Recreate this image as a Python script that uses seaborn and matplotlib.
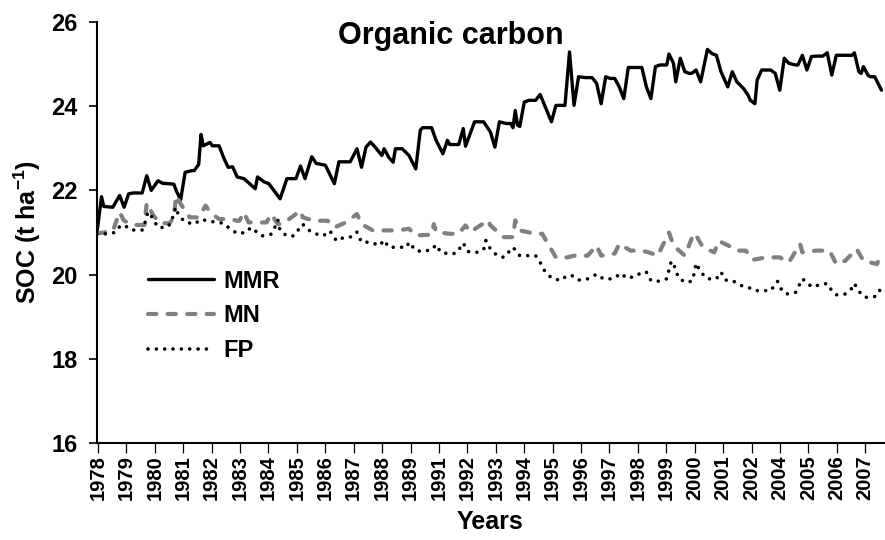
import numpy as np
import pandas as pd
import matplotlib
matplotlib.use('Agg')
import matplotlib.pyplot as plt
import seaborn as sns

# months since Jan 1978 and SOC values, t/ha
mmr_month = [0, 2, 3, 7, 10, 12, 14, 16, 20, 22, 24, 27, 29, 34, 35, 37, 39, 42, 43, 45,
             46, 47, 50, 51, 54, 56, 58, 60, 62, 65, 70, 71, 74, 76, 81, 84, 88, 90, 92, 95,
             97, 101, 105, 107, 112, 115, 117, 119, 121, 123, 126, 127, 129, 131, 132, 135, 138, 141, 143, 144,
             148, 150, 153, 155, 156, 160, 162, 163, 166, 167, 171, 174, 176, 178, 181, 183, 184, 185, 186, 187,
             189, 191, 194, 196, 198, 201, 203, 207, 209, 211, 213, 216, 219, 221, 223, 225, 227, 229, 231, 233,
             235, 237, 241, 243, 245, 247, 249, 252, 253, 255, 256, 258, 260, 262, 263, 265, 267, 270, 272, 274,
             276, 279, 281, 283, 286, 288, 289, 291, 292, 294, 298, 300, 302, 304, 306, 309, 310, 312, 314, 316,
             318, 321, 323, 325, 327, 329, 334, 335, 337, 338, 339, 341, 342, 344, 347]
mmr_soc = [21.0, 21.85, 21.62, 21.6, 21.88, 21.6, 21.92, 21.94, 21.94, 22.35, 22.0, 22.23, 22.17, 22.15, 22.0, 21.78, 22.43, 22.47, 22.47, 22.62,
           23.33, 23.06, 23.14, 23.06, 23.06, 22.78, 22.55, 22.56, 22.32, 22.28, 22.04, 22.32, 22.2, 22.16, 21.8, 22.28, 22.28, 22.58, 22.28, 22.8,
           22.64, 22.6, 22.16, 22.68, 22.68, 22.99, 22.55, 23.03, 23.15, 23.03, 22.83, 22.99, 22.79, 22.67, 22.99, 22.99, 22.83, 22.51, 23.43, 23.49,
           23.49, 23.19, 22.87, 23.19, 23.09, 23.09, 23.47, 23.05, 23.49, 23.63, 23.63, 23.39, 23.03, 23.63, 23.59, 23.59, 23.49, 23.9, 23.55, 23.52,
           24.1, 24.14, 24.14, 24.28, 24.02, 23.63, 24.02, 24.02, 25.29, 24.02, 24.7, 24.68, 24.68, 24.54, 24.06, 24.7, 24.66, 24.66, 24.46, 24.18,
           24.92, 24.92, 24.92, 24.46, 24.18, 24.94, 24.98, 24.98, 25.24, 25.02, 24.58, 25.14, 24.82, 24.78, 24.78, 24.86, 24.58, 25.35, 25.25, 25.21,
           24.82, 24.46, 24.82, 24.58, 24.42, 24.26, 24.14, 24.06, 24.62, 24.86, 24.86, 24.78, 24.38, 25.14, 25.02, 24.98, 24.98, 25.21, 24.86, 25.18,
           25.19, 25.19, 25.27, 24.74, 25.21, 25.21, 25.21, 25.27, 24.82, 24.78, 24.94, 24.74, 24.7, 24.7, 24.38]

mn_month = [0, 3, 5, 7, 10, 12, 16, 21, 22, 25, 28, 32, 34, 35, 37, 41, 45, 48, 50, 54,
            59, 62, 63, 65, 67, 70, 75, 77, 80, 82, 90, 91, 96, 102, 105, 110, 115, 117, 122, 126,
            129, 133, 138, 141, 148, 149, 150, 156, 160, 163, 165, 173, 174, 180, 184, 185, 187, 194, 197, 199,
            203, 208, 211, 217, 221, 223, 229, 231, 236, 241, 244, 248, 253, 255, 260, 264, 265, 268, 273, 275,
            280, 283, 287, 290, 296, 300, 302, 306, 311, 312, 318, 324, 327, 331, 336, 339, 345, 347]
mn_soc = [20.98, 21.0, 21.04, 21.04, 21.48, 21.28, 21.18, 21.18, 21.7, 21.4, 21.22, 21.22, 21.36, 21.88, 21.68, 21.36, 21.36, 21.64, 21.48, 21.32,
          21.32, 21.28, 21.28, 21.48, 21.24, 21.24, 21.24, 21.44, 21.2, 21.2, 21.52, 21.36, 21.28, 21.28, 21.12, 21.24, 21.44, 21.2, 21.05, 21.05,
          21.05, 21.05, 21.09, 20.93, 20.95, 21.2, 21.01, 20.97, 20.97, 21.17, 21.01, 21.29, 21.17, 20.89, 20.89, 21.29, 21.05, 20.97, 20.97, 20.77,
          20.41, 20.41, 20.45, 20.45, 20.69, 20.45, 20.5, 20.73, 20.57, 20.57, 20.53, 20.45, 21.0, 20.69, 20.45, 20.98, 20.93, 20.65, 20.53, 20.8,
          20.67, 20.57, 20.57, 20.35, 20.41, 20.41, 20.41, 20.29, 20.73, 20.53, 20.57, 20.57, 20.25, 20.33, 20.61, 20.33, 20.25, 20.53]

fp_month = [0, 4, 8, 10, 12, 15, 20, 21, 22, 23, 25, 27, 31, 33, 34, 35, 36, 39, 43, 46,
            48, 52, 56, 59, 62, 66, 68, 70, 73, 77, 79, 80, 81, 84, 87, 91, 93, 96, 100, 103,
            106, 109, 113, 115, 117, 121, 125, 127, 129, 133, 137, 138, 141, 144, 148, 150, 152, 156, 159, 162,
            164, 168, 171, 172, 174, 177, 180, 184, 187, 191, 194, 196, 198, 201, 205, 208, 210, 213, 217, 221,
            224, 228, 232, 234, 238, 241, 243, 245, 248, 252, 254, 256, 257, 260, 263, 264, 265, 267, 270, 274,
            276, 278, 281, 285, 288, 291, 294, 298, 301, 303, 305, 309, 312, 314, 316, 320, 323, 325, 327, 331,
            334, 335, 337, 340, 344, 346, 347]
fp_soc = [20.96, 20.97, 21.0, 21.14, 21.18, 21.06, 21.06, 21.18, 21.41, 21.49, 21.3, 21.12, 21.12, 21.25, 21.49, 21.6, 21.41, 21.25, 21.2, 21.31,
          21.29, 21.25, 21.22, 21.08, 20.98, 21.0, 21.12, 21.04, 20.92, 20.96, 21.16, 21.3, 21.04, 20.92, 20.92, 21.2, 21.08, 20.98, 20.92, 21.04,
          20.8, 20.88, 20.9, 21.01, 20.77, 20.77, 20.69, 20.82, 20.65, 20.65, 20.65, 20.77, 20.57, 20.55, 20.59, 20.71, 20.53, 20.49, 20.51, 20.75,
          20.55, 20.53, 20.59, 20.81, 20.61, 20.45, 20.41, 20.65, 20.45, 20.45, 20.45, 20.29, 20.09, 19.92, 19.86, 19.98, 19.98, 19.87, 19.9, 20.01,
          19.9, 19.9, 20.03, 19.92, 19.95, 20.06, 20.06, 19.86, 19.84, 19.9, 20.32, 20.14, 19.94, 19.82, 19.84, 20.0, 20.27, 20.06, 19.9, 19.9,
          20.06, 19.87, 19.86, 19.74, 19.7, 19.62, 19.62, 19.62, 19.84, 19.62, 19.54, 19.58, 19.9, 19.82, 19.71, 19.76, 19.79, 19.62, 19.52, 19.54,
          19.68, 19.79, 19.6, 19.46, 19.48, 19.63, 19.6]

year_labels = ['1978', '1979', '1980', '1981', '1982', '1983', '1984', '1985', '1986', '1987',
               '1988', '1989', '1991', '1992', '1993', '1994', '1995', '1996', '1997', '1998',
               '1999', '2000', '2001', '2002', '2004', '2005', '2006', '2007']

sns.set_style('white')
plt.rcParams['font.family'] = ['Liberation Sans', 'DejaVu Sans']
plt.rcParams['font.weight'] = 'bold'
plt.rcParams['mathtext.fontset'] = 'custom'
plt.rcParams['mathtext.rm'] = 'Liberation Sans:bold'
plt.rcParams['mathtext.bf'] = 'Liberation Sans:bold'
for k in ['text.color', 'axes.labelcolor', 'xtick.color', 'ytick.color']:
    plt.rcParams[k] = 'black'

fig = plt.figure(figsize=(8.85, 5.4), dpi=100)
ax = fig.add_axes([0.1096, 0.1796, 0.889, 0.7796])

sns.lineplot(x=mmr_month, y=mmr_soc, ax=ax, color='black', lw=2.4, label='MMR')
sns.lineplot(x=mn_month, y=mn_soc, ax=ax, color='#808080', lw=3.0,
             linestyle=(0, (2.0, 2.7)), dash_capstyle='round', label='MN')
sns.lineplot(x=fp_month, y=fp_soc, ax=ax, color='black', lw=2.6,
             linestyle=(0, (0.01, 2.3)), dash_capstyle='round', label='FP')

ax.set_xlim(0, 348)
ax.set_ylim(16, 26)
ax.set_yticks(np.arange(16, 27, 2))
ax.set_xticks(np.linspace(0.44, 339.8, len(year_labels)))
ax.set_xticklabels(year_labels, rotation=90)
ax.set_xticks(np.arange(0, 349, 1), minor=True)

ax.tick_params(axis='y', direction='out', length=6, width=1.2, labelsize=17, pad=8)
ax.tick_params(axis='x', which='major', direction='out', length=7, width=0.9, labelsize=14.5, pad=2)
ax.tick_params(axis='x', which='minor', direction='out', length=7, width=0.9)
ax.tick_params(axis='both', left=True, bottom=True)

for s in ['top', 'right']:
    ax.spines[s].set_visible(False)
for s in ['left', 'bottom']:
    ax.spines[s].set_color('black')
    ax.spines[s].set_linewidth(1.5)

ax.set_xlabel('Years', fontsize=18, fontweight='bold', labelpad=7)
ax.set_ylabel('SOC (t ha$^{-1}$)', fontsize=18, fontweight='bold', labelpad=6)
ax.text(0.45, 0.966, 'Organic carbon', transform=ax.transAxes, ha='center', va='center',
        fontsize=22, fontweight='bold')

ax.legend(loc='upper left', bbox_to_anchor=(0.05, 0.44), frameon=False, fontsize=17,
          handlelength=2.8, handletextpad=0.38, labelspacing=0.5, borderpad=0)

fig.savefig('out.png', dpi=100)
